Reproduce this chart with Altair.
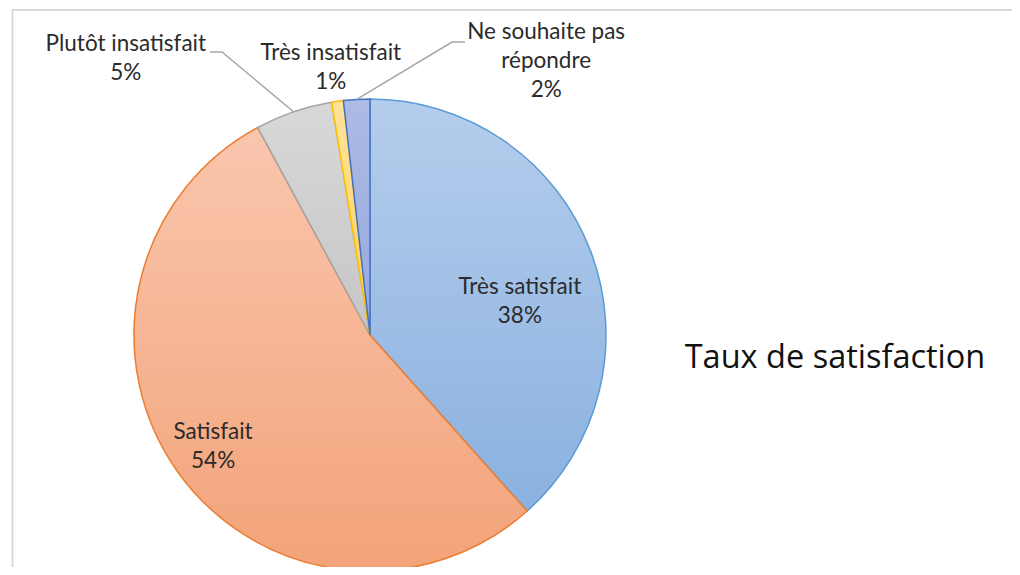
import altair as alt
import pandas as pd
import math

# ---- data ----
categories = ["Très satisfait", "Satisfait", "Plutôt insatisfait", "Très insatisfait", "Ne souhaite pas répondre"]
values = [38.4, 53.7, 5.3, 0.8, 1.8]
label_text = ["Très satisfait", "Satisfait", "Plutôt insatisfait", "Très insatisfait", "Ne souhaite pas\nrépondre"]
title_text = "Taux de satisfaction"

# ---- layout / style ----
W, H = 1004, 559
CX, CY, R = 362, 327, 236
FONT = "Lato"
fills = {
    "Très satisfait": ("#b5cdec", "#8ab1e0"),
    "Satisfait": ("#f9c6ae", "#f3a379"),
    "Plutôt insatisfait": ("#d8d8d8", "#c6c6c6"),
    "Très insatisfait": ("#ffe39a", "#ffd15e"),
    "Ne souhaite pas répondre": ("#adbbe5", "#97a8db"),
}
strokes = {
    "Très satisfait": "#5b9bd5",
    "Satisfait": "#ed7d31",
    "Plutôt insatisfait": "#a5a5a5",
    "Très insatisfait": "#ffc000",
    "Ne souhaite pas répondre": "#4472c4",
}
# label placement: radius, dx, dy (dy of the first line)
label_pos = {
    "Très satisfait": (154, 6, 7),
    "Satisfait": (193, 1, -14),
    "Plutôt insatisfait": (300, -147, -7),
    "Très insatisfait": (270, -2, -15),
    "Ne souhaite pas répondre": (280, 192, -23),
}
# leader lines: (elbow, end) points near the label
leader_pts = {
    "Plutôt insatisfait": [(214, 44), (202, 44)],
    "Ne souhaite pas répondre": [(444, 34), (457, 34)],
}

df = pd.DataFrame({"cat": categories, "value": values, "idx": list(range(len(categories))), "label": label_text})

base = (
    alt.Chart(df)
    .transform_joinaggregate(total="sum(value)")
    .transform_window(cum="sum(value)", sort=[alt.SortField("idx")], frame=[None, 0])
    .transform_calculate(
        start="(datum.cum - datum.value) / datum.total",
        end="datum.cum / datum.total",
        mid="(datum.cum - datum.value / 2) / datum.total",
        txt="datum.label + '\\n' + format(datum.value / datum.total, '.0%')",
    )
)
theta_scale = alt.Scale(domain=[0, 1])

layers = []
for cat in categories:
    top, bot = fills[cat]
    grad = alt.Gradient(
        gradient="linear",
        stops=[alt.GradientStop(color=top, offset=0), alt.GradientStop(color=bot, offset=1)],
        x1=0, x2=0, y1=0, y2=1,
    )
    layers.append(
        base.transform_filter(alt.datum.cat == cat)
        .mark_arc(radius=R, fill=grad, stroke=strokes[cat], strokeWidth=1.5)
        .encode(
            theta=alt.Theta("start:Q", scale=theta_scale),
            theta2="end:Q",
            x=alt.value(CX),
            y=alt.value(CY),
        )
    )

# leader lines computed from the slice mid-angles
total = sum(values)
rows = []
cum = 0
for cat, v in zip(categories, values):
    mid = (cum + v / 2) / total
    cum += v
    if cat in leader_pts:
        ex = CX + R * math.sin(2 * math.pi * mid)
        ey = CY - R * math.cos(2 * math.pi * mid)
        pts = [(ex, ey)] + leader_pts[cat]
        for k, (px, py) in enumerate(pts):
            rows.append({"cat": cat, "k": k, "px": px, "py": py})
leaders = (
    alt.Chart(pd.DataFrame(rows))
    .mark_line(color="#a6a6a6", strokeWidth=1.5)
    .encode(
        x=alt.X("px:Q", scale=None, axis=None),
        y=alt.Y("py:Q", scale=None, axis=None),
        detail="cat:N",
        order="k:Q",
    )
)
layers.append(leaders)

for cat in categories:
    r, dx, dy = label_pos[cat]
    layers.append(
        base.transform_filter(alt.datum.cat == cat)
        .mark_text(
            radius=r, dx=dx, dy=dy, font=FONT, fontSize=22.5, color="#2b2b2b",
            lineBreak="\n", lineHeight=29, align="center", baseline="middle",
        )
        .encode(
            theta=alt.Theta("mid:Q", scale=theta_scale),
            text="txt:N",
            x=alt.value(CX),
            y=alt.value(CY),
        )
    )

title = (
    alt.Chart(pd.DataFrame({"t": [title_text]}))
    .mark_text(font="Open Sans", fontSize=32.5, color="#111111", align="center", baseline="middle")
    .encode(text="t:N", x=alt.value(827), y=alt.value(350))
)
layers.append(title)

dummy = pd.DataFrame({"a": [0]})
frame_top = alt.Chart(dummy).mark_rule(color="#d9d9d9", strokeWidth=2).encode(
    x=alt.value(4), x2=alt.value(W), y=alt.value(2)
)
frame_left = alt.Chart(dummy).mark_rule(color="#d9d9d9", strokeWidth=2).encode(
    x=alt.value(4.5), y=alt.value(2), y2=alt.value(H)
)
layers = [frame_top, frame_left] + layers

chart = (
    alt.layer(*layers)
    .properties(width=W, height=H, autosize=alt.AutoSizeParams(type="none"), padding=0, background="white")
    .configure_view(stroke=None)
)

chart.save("out.html", embed_options={"renderer": "svg", "actions": False})
